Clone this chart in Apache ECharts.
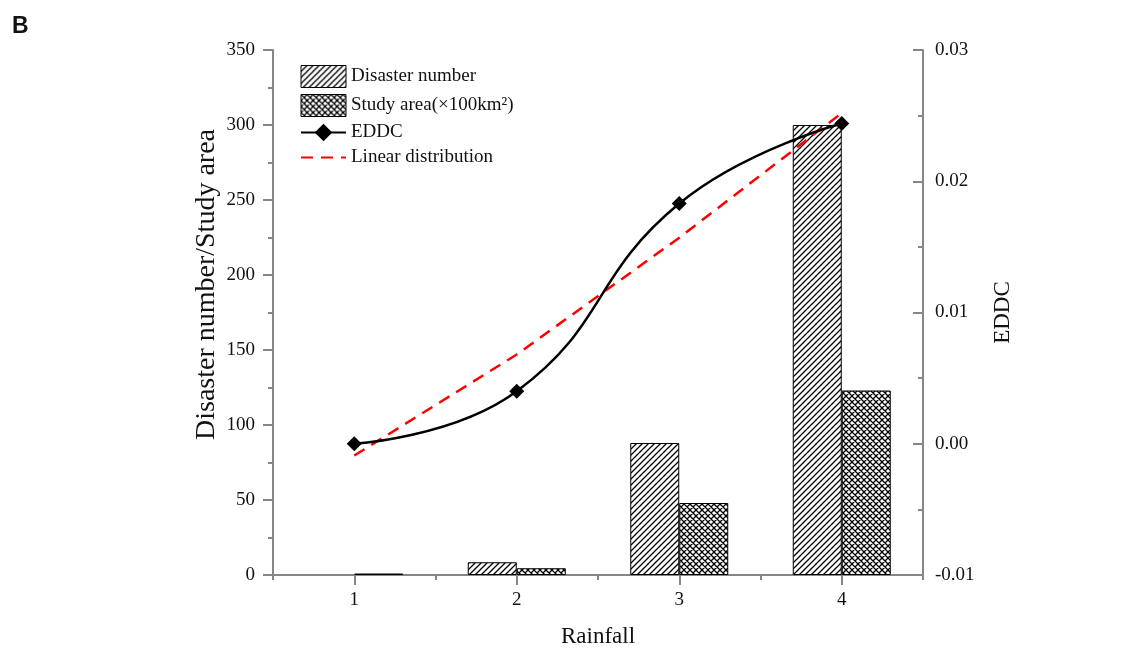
<!DOCTYPE html>
<html>
<head>
<meta charset="utf-8">
<script src="https://cdn.jsdelivr.net/npm/echarts@6/dist/echarts.min.js"></script>
<style>
  html, body { margin: 0; padding: 0; background: #fff; }
  #chart { width: 1145px; height: 664px; }
</style>
</head>
<body>
<div id="chart"></div>
<script>
// Rainfall classes and values
const categories = ['1', '2', '3', '4'];
const disasterNumber = [0, 8.5, 88, 300];
const studyArea = [1, 4.5, 48, 123];
const eddc = [0.0000, 0.0040, 0.0183, 0.0244];
const linearDistribution = [-0.0009, 0.0068, 0.0157, 0.0252];

const leftTicks = { min: 0, max: 350, interval: 50 };
const rightTicks = { min: -0.01, max: 0.03, interval: 0.01 };

const SERIF = '"Liberation Serif", "Times New Roman", serif';
const AXIS_GREY = '#868686';
const TEXT = '#111';

// Hatch fills for the bars: single diagonals and cross-hatching
function hatchTile(cross) {
  const s = 6;
  const c = document.createElement('canvas');
  c.width = s; c.height = s;
  const g = c.getContext('2d');
  g.fillStyle = '#fff';
  g.fillRect(0, 0, s, s);
  g.strokeStyle = '#000';
  g.lineWidth = 1.3;
  g.beginPath();
  g.moveTo(-1, s + 1); g.lineTo(s + 1, -1);
  g.moveTo(-1, 1); g.lineTo(1, -1);
  g.moveTo(s - 1, s + 1); g.lineTo(s + 1, s - 1);
  if (cross) {
    g.moveTo(-1, -1); g.lineTo(s + 1, s + 1);
    g.moveTo(s - 1, -1); g.lineTo(s + 1, 1);
    g.moveTo(-1, s - 1); g.lineTo(1, s + 1);
  }
  g.stroke();
  return c;
}
const diagFill = { image: hatchTile(false), repeat: 'repeat' };
const crossFill = { image: hatchTile(true), repeat: 'repeat' };

// zero-height bars get no outline so they don't draw over the axis
const barData = arr => arr.map(v => (v === 0 ? { value: v, itemStyle: { borderWidth: 0 } } : v));

const chart = echarts.init(document.getElementById('chart'), null, { renderer: 'canvas' });

const tickLine = { color: AXIS_GREY, width: 2 };

chart.setOption({
  backgroundColor: '#fff',
  animation: false,
  textStyle: { fontFamily: SERIF, color: TEXT },
  graphic: [{
    type: 'text',
    left: 12,
    top: 15,
    style: { text: 'B', font: 'bold 23px "Liberation Sans", Arial, sans-serif', fill: '#111' }
  }],
  grid: { left: 273, right: 222, top: 50, bottom: 89 },
  legend: {
    orient: 'vertical',
    left: 295,
    top: 60,
    itemWidth: 45,
    itemHeight: 22,
    itemGap: 6,
    textStyle: { fontFamily: SERIF, fontSize: 19, color: TEXT },
    data: [
      { name: 'Disaster number', icon: 'rect', itemStyle: { borderColor: '#000', borderWidth: 1 } },
      { name: 'Study area(×100km²)', icon: 'rect', itemStyle: { borderColor: '#000', borderWidth: 1 } },
      { name: 'EDDC' },
      { name: 'Linear distribution', itemStyle: { opacity: 0 } }
    ]
  },
  xAxis: [{
    type: 'category',
    data: categories,
    boundaryGap: true,
    position: 'bottom',
    name: 'Rainfall',
    nameLocation: 'middle',
    nameGap: 50,
    nameMoveOverlap: false,
    nameTextStyle: { fontFamily: SERIF, fontSize: 23, color: TEXT },
    axisLine: { show: true, onZero: false, lineStyle: { color: AXIS_GREY, width: 2 } },
    axisTick: { show: true, alignWithLabel: false, length: 5, lineStyle: tickLine },
    axisLabel: { margin: 16, fontFamily: SERIF, fontSize: 19, color: TEXT },
    splitLine: { show: false }
  }, {
    // centre ticks under each rainfall class
    type: 'category',
    data: categories,
    boundaryGap: true,
    position: 'bottom',
    axisLine: { show: false, onZero: false },
    axisTick: { show: true, alignWithLabel: true, length: 10, lineStyle: tickLine },
    axisLabel: { show: false },
    splitLine: { show: false }
  }],
  yAxis: [{
    type: 'value',
    position: 'left',
    min: leftTicks.min,
    max: leftTicks.max,
    interval: leftTicks.interval,
    name: 'Disaster number/Study area',
    nameLocation: 'middle',
    nameRotate: 90,
    nameGap: 52,
    nameMoveOverlap: false,
    nameTextStyle: { fontFamily: SERIF, fontSize: 28, color: TEXT, padding: [0, 0, 0, 56] },
    axisLine: { show: true, onZero: false, lineStyle: { color: AXIS_GREY, width: 2 } },
    axisTick: { show: true, length: 10, lineStyle: tickLine },
    minorTick: { show: true, splitNumber: 2, length: 5, lineStyle: tickLine },
    axisLabel: { margin: 18, fontFamily: SERIF, fontSize: 19, color: TEXT },
    splitLine: { show: false }
  }, {
    type: 'value',
    position: 'right',
    min: rightTicks.min,
    max: rightTicks.max,
    interval: rightTicks.interval,
    name: 'EDDC',
    nameLocation: 'middle',
    nameRotate: 90,
    nameGap: 68,
    nameMoveOverlap: false,
    nameTextStyle: { fontFamily: SERIF, fontSize: 23, color: TEXT },
    axisLine: { show: true, onZero: false, lineStyle: { color: AXIS_GREY, width: 2 } },
    axisTick: { show: true, inside: true, length: 10, lineStyle: tickLine },
    minorTick: { show: true, splitNumber: 2, length: 5, lineStyle: tickLine },
    axisLabel: { margin: 12, fontFamily: SERIF, fontSize: 19, color: TEXT, formatter: v => v.toFixed(2) },
    splitLine: { show: false }
  }],
  series: [{
    name: 'Disaster number',
    type: 'bar',
    xAxisIndex: 0,
    yAxisIndex: 0,
    data: barData(disasterNumber),
    barWidth: 49,
    barGap: '0%',
    itemStyle: { color: diagFill, borderColor: '#000', borderWidth: 1 },
    z: 2
  }, {
    name: 'Study area(×100km²)',
    type: 'bar',
    xAxisIndex: 0,
    yAxisIndex: 0,
    data: barData(studyArea),
    barWidth: 49,
    barGap: '0%',
    itemStyle: { color: crossFill, borderColor: '#000', borderWidth: 1 },
    z: 2
  }, {
    name: 'EDDC',
    type: 'line',
    xAxisIndex: 0,
    yAxisIndex: 1,
    data: eddc,
    smooth: 0.47,
    symbol: 'diamond',
    symbolSize: 15,
    itemStyle: { color: '#000' },
    lineStyle: { color: '#000', width: 2.5 },
    z: 5
  }, {
    name: 'Linear distribution',
    type: 'line',
    xAxisIndex: 0,
    yAxisIndex: 1,
    data: linearDistribution,
    symbol: 'none',
    itemStyle: { color: '#ff0000' },
    lineStyle: { color: '#ff0000', width: 2.5, type: [12, 8] },
    z: 4
  }]
});
</script>
</body>
</html>
